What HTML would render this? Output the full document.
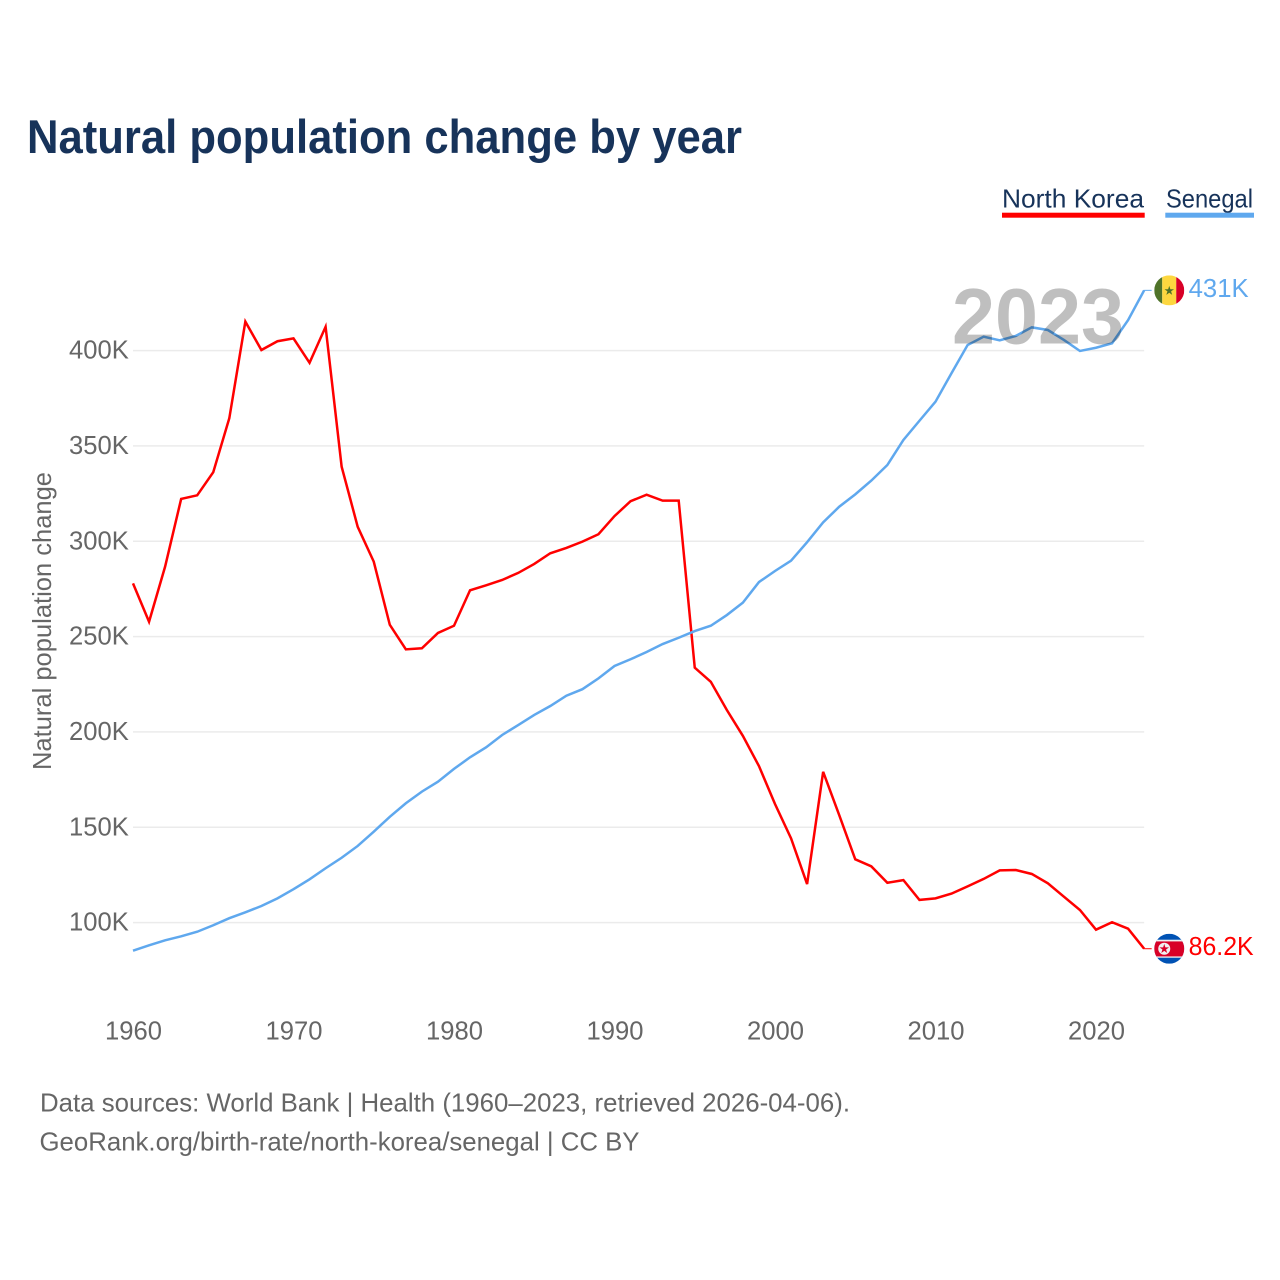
<!DOCTYPE html>
<html lang="en">
<head>
<meta charset="utf-8">
<title>Natural population change by year</title>
<style>
  html, body { margin: 0; padding: 0; background: #fff; }
  svg { display: block; font-family: "Liberation Sans", sans-serif; }
  .tick { font-size: 25.6px; fill: #666; }
  .foot { font-size: 26px; fill: #666; }
  .legend { font-size: 26px; fill: #17335a; }
</style>
</head>
<body>
<svg id="chart" xmlns="http://www.w3.org/2000/svg" width="1280" height="1280" viewBox="0 0 1280 1280">
  <defs>
    <clipPath id="flag-clip"><circle cx="0" cy="0" r="15"></circle></clipPath>
  </defs>
  <rect x="0" y="0" width="1280" height="1280" fill="#fff"></rect>

  <text x="27" y="153" font-size="47" font-weight="bold" fill="#17335a" textLength="715" lengthAdjust="spacingAndGlyphs">Natural population change by year</text>

  <g>
    <text class="legend" x="1002" y="207.5" textLength="142" lengthAdjust="spacingAndGlyphs">North Korea</text>
    <rect x="1002" y="212.7" width="142.7" height="5" fill="#ff0000"></rect>
  </g>
  <g>
    <text class="legend" x="1166" y="207.5" textLength="87" lengthAdjust="spacingAndGlyphs">Senegal</text>
    <rect x="1165.3" y="212.7" width="88.7" height="5" fill="#5fa8ee"></rect>
  </g>

  <g id="grid"></g>
  <g id="y-axis"></g>
  <g id="x-axis"></g>

  <text class="tick" transform="translate(51 770) rotate(-90)" x="0" y="0" textLength="298" lengthAdjust="spacingAndGlyphs">Natural population change</text>

  <g id="series"></g>

  <text x="952" y="343.5" font-size="79" font-weight="bold" fill="rgba(0,0,0,0.25)" textLength="172" lengthAdjust="spacingAndGlyphs">2023</text>

  <g id="end-senegal">
    <g clip-path="url(#flag-clip)">
      <rect x="-15" y="-15" width="8" height="30" fill="#4f7329"></rect>
      <rect x="-7" y="-15" width="14" height="30" fill="#fdd73f"></rect>
      <rect x="7" y="-15" width="8" height="30" fill="#d80027"></rect>
      <polygon transform="translate(0 0.5)" points="0,-5 1.12,-1.55 4.76,-1.55 1.82,.59 2.94,4.05 0,1.91 -2.94,4.05 -1.82,.59 -4.76,-1.55 -1.12,-1.55" fill="#4f7329"></polygon>
    </g>
    <text x="19.4" y="6.5" font-size="25.6" fill="#5fa8ee" textLength="60" lengthAdjust="spacingAndGlyphs">431K</text>
  </g>

  <g id="end-north-korea">
    <g clip-path="url(#flag-clip)">
      <rect x="-15" y="-15" width="30" height="30" fill="#0052b4"></rect>
      <rect x="-15" y="-9" width="30" height="18" fill="#f0f0f0"></rect>
      <rect x="-15" y="-7.3" width="30" height="15" fill="#d80027"></rect>
      <circle cx="-5" cy="0" r="6" fill="#f0f0f0"></circle>
      <polygon transform="translate(-5 0.2)" points="0,-5 1.12,-1.55 4.76,-1.55 1.82,.59 2.94,4.05 0,1.91 -2.94,4.05 -1.82,.59 -4.76,-1.55 -1.12,-1.55" fill="#d80027"></polygon>
    </g>
    <text x="19.4" y="6.5" font-size="25.6" fill="#ff0000" textLength="65" lengthAdjust="spacingAndGlyphs">86.2K</text>
  </g>

  <text class="foot" x="40" y="1111.5" textLength="810" lengthAdjust="spacingAndGlyphs">Data sources: World Bank | Health (1960–2023, retrieved 2026-04-06).</text>
  <text class="foot" x="39.5" y="1150.5" textLength="600" lengthAdjust="spacingAndGlyphs">GeoRank.org/birth-rate/north-korea/senegal | CC BY</text>
</svg>

<script>
const years = [1960,1961,1962,1963,1964,1965,1966,1967,1968,1969,1970,1971,1972,1973,1974,1975,1976,1977,1978,1979,1980,1981,1982,1983,1984,1985,1986,1987,1988,1989,1990,1991,1992,1993,1994,1995,1996,1997,1998,1999,2000,2001,2002,2003,2004,2005,2006,2007,2008,2009,2010,2011,2012,2013,2014,2015,2016,2017,2018,2019,2020,2021,2022,2023];
const northKorea = [277.9,257.8,286.7,322.2,324.1,336.2,364.5,415.2,400.3,404.9,406.4,393.6,412.5,339.1,307.6,289.3,256.2,243.3,243.9,251.9,255.7,274.3,276.9,279.7,283.4,288.1,293.7,296.5,299.8,303.7,313.2,321.0,324.4,321.3,321.3,233.7,226.3,211.5,197.9,182.1,162.2,144.2,120.2,179.1,156.4,133.2,129.5,120.9,122.3,111.9,112.7,115.2,119.0,122.9,127.4,127.6,125.5,120.6,113.6,106.6,96.3,100.2,96.8,86.3];
const senegal = [85.3,88.1,90.7,92.8,95.2,98.6,102.3,105.4,108.7,112.7,117.5,122.7,128.5,134.0,140.2,147.7,155.5,162.6,168.7,173.9,180.6,186.7,191.9,198.4,203.6,208.9,213.6,219.0,222.4,228.1,234.6,238.1,241.9,246.1,249.4,252.9,255.7,261.3,267.8,278.6,284.4,289.8,299.5,309.9,318.1,324.6,331.8,340.0,353.1,363.2,373.2,388.2,402.9,407.3,405.4,407.7,412.2,410.8,405.6,399.8,401.5,403.8,416.0,431.6];
const yTicks = [100,150,200,250,300,350,400];
const yTickLabels = ["100K","150K","200K","250K","300K","350K","400K"];
const xTicks = [1960,1970,1980,1990,2000,2010,2020];

const SVG_NS = "http://www.w3.org/2000/svg";
function xScale(year) { return 133 + (year - 1960) * 16.05; }
function yScale(value) { return 922.6 - (value - 100) * 1.9067; }

const gridGroup = document.getElementById("grid");
const yAxisGroup = document.getElementById("y-axis");
const xAxisGroup = document.getElementById("x-axis");
const seriesGroup = document.getElementById("series");

yTicks.forEach(function (tick, i) {
  const gridLine = document.createElementNS(SVG_NS, "line");
  
  
  gridLine.setAttribute("x1", xScale(1960));
  gridLine.setAttribute("x2", xScale(2023));
  gridLine.setAttribute("y1", yScale(tick));
  gridLine.setAttribute("y2", yScale(tick));
  gridLine.setAttribute("stroke", "#ebebeb");
  gridLine.setAttribute("stroke-width", "1.5");
  gridGroup.appendChild(gridLine);

  const label = document.createElementNS(SVG_NS, "text");
  
  
  label.setAttribute("class", "tick");
  label.setAttribute("x", 128.8);
  label.setAttribute("y", yScale(tick) + 8);
  label.setAttribute("text-anchor", "end");
  label.textContent = yTickLabels[i];
  yAxisGroup.appendChild(label);
});

xTicks.forEach(function (tick) {
  const label = document.createElementNS(SVG_NS, "text");
  
  
  label.setAttribute("class", "tick");
  label.setAttribute("x", xScale(tick) + 0.5);
  label.setAttribute("y", 1039.5);
  label.setAttribute("text-anchor", "middle");
  label.textContent = String(tick);
  xAxisGroup.appendChild(label);
});

function linePath(values) {
  return values.map(function (v, i) {
    return (i ? "L" : "M") + xScale(years[i]).toFixed(2) + " " + yScale(v).toFixed(2);
  }).join(" ");
}

const northKoreaLine = document.createElementNS(SVG_NS, "path");


northKoreaLine.setAttribute("d", linePath(northKorea));
northKoreaLine.setAttribute("fill", "none");
northKoreaLine.setAttribute("stroke", "#ff0000");
northKoreaLine.setAttribute("stroke-width", "2.5");
northKoreaLine.setAttribute("stroke-linejoin", "miter");
seriesGroup.appendChild(northKoreaLine);

const senegalLine = document.createElementNS(SVG_NS, "path");


senegalLine.setAttribute("d", linePath(senegal));
senegalLine.setAttribute("fill", "none");
senegalLine.setAttribute("stroke", "#5fa8ee");
senegalLine.setAttribute("stroke-width", "2.5");
seriesGroup.appendChild(senegalLine);

const lastX = xScale(years[years.length - 1]);

const northKoreaStub = document.createElementNS(SVG_NS, "line");


northKoreaStub.setAttribute("x1", lastX);
northKoreaStub.setAttribute("x2", lastX + 7.5);
northKoreaStub.setAttribute("y1", yScale(northKorea[northKorea.length - 1]));
northKoreaStub.setAttribute("y2", yScale(northKorea[northKorea.length - 1]));
northKoreaStub.setAttribute("stroke", "#ff0000");
northKoreaStub.setAttribute("stroke-width", "1");
seriesGroup.appendChild(northKoreaStub);

const senegalStub = document.createElementNS(SVG_NS, "line");


senegalStub.setAttribute("x1", lastX);
senegalStub.setAttribute("x2", lastX + 7.5);
senegalStub.setAttribute("y1", yScale(senegal[senegal.length - 1]));
senegalStub.setAttribute("y2", yScale(senegal[senegal.length - 1]));
senegalStub.setAttribute("stroke", "#5fa8ee");
senegalStub.setAttribute("stroke-width", "1");
seriesGroup.appendChild(senegalStub);

document.getElementById("end-senegal").setAttribute("transform", "translate(" + (lastX + 25.1) + " " + yScale(senegal[senegal.length - 1]) + ")");
document.getElementById("end-north-korea").setAttribute("transform", "translate(" + (lastX + 25.1) + " " + yScale(northKorea[northKorea.length - 1]) + ")");
</script>
</body>
</html>
